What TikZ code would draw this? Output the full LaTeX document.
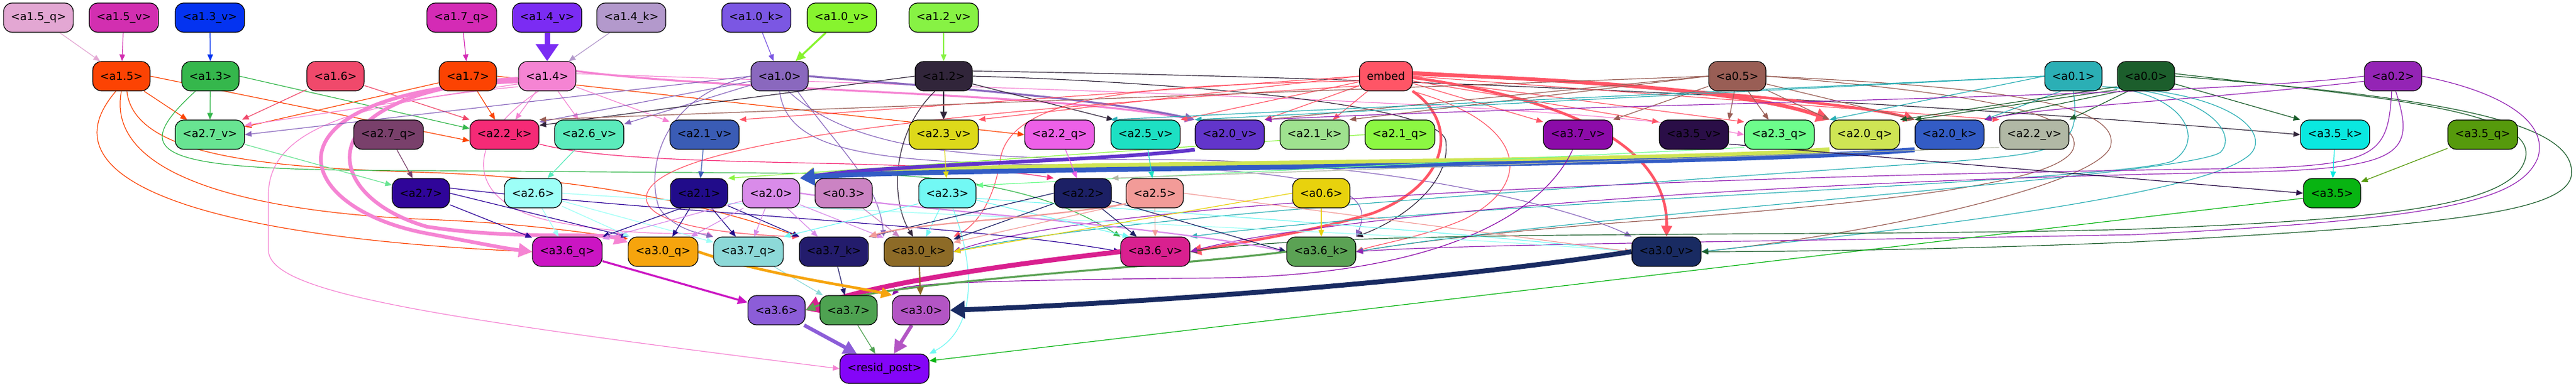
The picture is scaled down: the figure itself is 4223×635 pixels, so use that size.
\documentclass[tikz,border=0pt]{standalone}
\usepackage{fontspec}
\setmainfont{DejaVu Sans}
\usetikzlibrary{arrows.meta,backgrounds}
\definecolor{c15q}{HTML}{E3A7D3}\definecolor{c15v}{HTML}{D22FB0}\definecolor{c13v}{HTML}{0433F0}
\definecolor{c17q}{HTML}{D42BB5}\definecolor{c14v}{HTML}{7B2CF3}\definecolor{c14k}{HTML}{B399CC}
\definecolor{c10k}{HTML}{7B57E3}\definecolor{c10v}{HTML}{87F42E}\definecolor{c12v}{HTML}{87F244}
\definecolor{c15}{HTML}{FC4303}\definecolor{c13}{HTML}{35B74C}\definecolor{c16}{HTML}{F0496B}
\definecolor{c17}{HTML}{FC4302}\definecolor{c14}{HTML}{F584D3}\definecolor{c10}{HTML}{8A68BE}
\definecolor{c12}{HTML}{31253A}\definecolor{cemb}{HTML}{FF5566}\definecolor{c05}{HTML}{995E55}
\definecolor{c01}{HTML}{2BAFB5}\definecolor{c00}{HTML}{1C5E2C}\definecolor{c02}{HTML}{9424B5}
\definecolor{c27v}{HTML}{68E492}\definecolor{c27q}{HTML}{79406B}\definecolor{c22k}{HTML}{F52A76}
\definecolor{c26v}{HTML}{5BEBBC}\definecolor{c21v}{HTML}{3A5CB5}\definecolor{c23v}{HTML}{DDD91A}
\definecolor{c22q}{HTML}{ED60E7}\definecolor{c25v}{HTML}{1DE0C3}\definecolor{c20v}{HTML}{6235CB}
\definecolor{c21k}{HTML}{9FE28F}\definecolor{c21q}{HTML}{8CF742}\definecolor{c37v}{HTML}{8C0BA9}
\definecolor{c35v}{HTML}{2A0E47}\definecolor{c23q}{HTML}{6DFD8C}\definecolor{c20q}{HTML}{CFE554}
\definecolor{c20k}{HTML}{335CC5}\definecolor{c22v}{HTML}{B1B8A5}\definecolor{c35k}{HTML}{0AE8E0}
\definecolor{c35q}{HTML}{569A0C}\definecolor{c27}{HTML}{2F0599}\definecolor{c26}{HTML}{9DFFF7}
\definecolor{c21}{HTML}{210C8A}\definecolor{c20}{HTML}{D98BE9}\definecolor{c03}{HTML}{CB83C3}
\definecolor{c23}{HTML}{72F8F4}\definecolor{c22}{HTML}{1C2065}\definecolor{c25}{HTML}{F29B98}
\definecolor{c06}{HTML}{E8D20D}\definecolor{c35}{HTML}{08B412}\definecolor{c36q}{HTML}{CB15C3}
\definecolor{c30q}{HTML}{F6A40D}\definecolor{c37q}{HTML}{8DD9D8}\definecolor{c37k}{HTML}{231C6C}
\definecolor{c30k}{HTML}{8D6B27}\definecolor{c36v}{HTML}{D9208F}\definecolor{c36k}{HTML}{5BA254}
\definecolor{c30v}{HTML}{192B62}\definecolor{c36}{HTML}{8C5DD8}\definecolor{c37}{HTML}{4EA251}
\definecolor{c30}{HTML}{B355C4}\definecolor{cres}{HTML}{8405F8}
\tikzset{
 nd/.style={draw=black, line width=0.6pt, rounded corners=7pt, minimum height=24pt,
   inner xsep=6pt, inner ysep=0pt, font=\fontsize{9}{10.8}\selectfont, text=black},
 wA/.style={line width=0.6pt,-{Triangle[length=5.5pt,width=4.5pt]}},
 wB/.style={line width=1.1pt,-{Triangle[length=6.5pt,width=5.5pt]}},
 wC/.style={line width=1.6pt,-{Triangle[length=8pt,width=7pt]}},
 wD/.style={line width=2.2pt,-{Triangle[length=9pt,width=8.5pt]}},
 wE/.style={line width=3pt,-{Triangle[length=11pt,width=11pt]}},
 wF/.style={line width=4pt,-{Triangle[length=12pt,width=14pt]}},
 wG/.style={line width=4.5pt,-{Triangle[length=14pt,width=18pt]}},
}
\begin{document}
\begin{tikzpicture}[x=0.5pt,y=-0.5pt]
\useasboundingbox (0,0) rectangle (4223,635);
% row 1
\node[nd,fill=c15q] (a15q) at (63,29) {<a1.5\_q>};
\node[nd,fill=c15v] (a15v) at (203,29) {<a1.5\_v>};
\node[nd,fill=c13v] (a13v) at (344,29) {<a1.3\_v>};
\node[nd,fill=c17q] (a17q) at (757,29) {<a1.7\_q>};
\node[nd,fill=c14v] (a14v) at (897,29) {<a1.4\_v>};
\node[nd,fill=c14k] (a14k) at (1035,29) {<a1.4\_k>};
\node[nd,fill=c10k] (a10k) at (1240,29) {<a1.0\_k>};
\node[nd,fill=c10v] (a10v) at (1380,29) {<a1.0\_v>};
\node[nd,fill=c12v] (a12v) at (1547,29) {<a1.2\_v>};
% row 2
\node[nd,fill=c15] (a15) at (199,125) {<a1.5>};
\node[nd,fill=c13] (a13) at (345,125) {<a1.3>};
\node[nd,fill=c16] (a16) at (550,125) {<a1.6>};
\node[nd,fill=c17] (a17) at (767,125) {<a1.7>};
\node[nd,fill=c14] (a14) at (897,125) {<a1.4>};
\node[nd,fill=c10] (a10) at (1278,125) {<a1.0>};
\node[nd,fill=c12] (a12) at (1547,125) {<a1.2>};
\node[nd,fill=cemb] (emb) at (2272,125) {embed};
\node[nd,fill=c05] (a05) at (2848,125) {<a0.5>};
\node[nd,fill=c01] (a01) at (3399,125) {<a0.1>};
\node[nd,fill=c00] (a00) at (3518,125) {<a0.0>};
\node[nd,fill=c02] (a02) at (3923,125) {<a0.2>};
% row 3
\node[nd,fill=c27v] (a27v) at (344,221) {<a2.7\_v>};
\node[nd,fill=c27q] (a27q) at (637,221) {<a2.7\_q>};
\node[nd,fill=c22k] (a22k) at (827,221) {<a2.2\_k>};
\node[nd,fill=c26v] (a26v) at (966,221) {<a2.6\_v>};
\node[nd,fill=c21v] (a21v) at (1155,221) {<a2.1\_v>};
\node[nd,fill=c23v] (a23v) at (1547,221) {<a2.3\_v>};
\node[nd,fill=c22q] (a22q) at (1737,221) {<a2.2\_q>};
\node[nd,fill=c25v] (a25v) at (1878,221) {<a2.5\_v>};
\node[nd,fill=c20v] (a20v) at (2016,221) {<a2.0\_v>};
\node[nd,fill=c21k] (a21k) at (2155,221) {<a2.1\_k>};
\node[nd,fill=c21q] (a21q) at (2295,221) {<a2.1\_q>};
\node[nd,fill=c37v] (a37v) at (2587,221) {<a3.7\_v>};
\node[nd,fill=c35v] (a35v) at (2777,221) {<a3.5\_v>};
\node[nd,fill=c23q] (a23q) at (2917,221) {<a2.3\_q>};
\node[nd,fill=c20q] (a20q) at (3057,221) {<a2.0\_q>};
\node[nd,fill=c20k] (a20k) at (3196,221) {<a2.0\_k>};
\node[nd,fill=c22v] (a22v) at (3335,221) {<a2.2\_v>};
\node[nd,fill=c35k] (a35k) at (3828,221) {<a3.5\_k>};
\node[nd,fill=c35q] (a35q) at (4070,221) {<a3.5\_q>};
% row 4
\node[nd,fill=c27] (a27) at (690,317) {<a2.7>};
\node[nd,fill=c26] (a26) at (874,317) {<a2.6>};
\node[nd,fill=c21] (a21) at (1146,317) {<a2.1>};
\node[nd,fill=c20] (a20) at (1264,317) {<a2.0>};
\node[nd,fill=c03] (a03) at (1383,317) {<a0.3>};
\node[nd,fill=c23] (a23) at (1553,317) {<a2.3>};
\node[nd,fill=c22] (a22) at (1775,317) {<a2.2>};
\node[nd,fill=c25] (a25) at (1893,317) {<a2.5>};
\node[nd,fill=c06] (a06) at (2166,317) {<a0.6>};
\node[nd,fill=c35] (a35) at (3823,317) {<a3.5>};
% row 5
\node[nd,fill=c36q] (a36q) at (930,413) {<a3.6\_q>};
\node[nd,fill=c30q] (a30q) at (1087,413) {<a3.0\_q>};
\node[nd,fill=c37q] (a37q) at (1227,413) {<a3.7\_q>};
\node[nd,fill=c37k] (a37k) at (1367,413) {<a3.7\_k>};
\node[nd,fill=c30k] (a30k) at (1506,413) {<a3.0\_k>};
\node[nd,fill=c36v] (a36v) at (1894,413) {<a3.6\_v>};
\node[nd,fill=c36k] (a36k) at (2166,413) {<a3.6\_k>};
\node[nd,fill=c30v] (a30v) at (2732,413) {<a3.0\_v>};
% row 6
\node[nd,fill=c36] (a36) at (1273,509) {<a3.6>};
\node[nd,fill=c37] (a37) at (1391,509) {<a3.7>};
\node[nd,fill=c30] (a30) at (1510,509) {<a3.0>};
% row 7
\node[nd,fill=cres] (res) at (1450,605) {<resid\_post>};

\begin{scope}[on background layer]
\fill[white] (0,0) rectangle (4223,635);
% row1 -> row2
\draw[wA,c15q] (a15q) -- (a15);
\draw[wA,c15v] (a15v) -- (a15);
\draw[wA,c13v] (a13v) -- (a13);
\draw[wA,c17q] (a17q) -- (a17);
\draw[wG,c14v] (a14v) -- (a14);
\draw[wA,c14k] (a14k) -- (a14);
\draw[wA,c10k] (a10k) -- (a10);
\draw[wC,c10v] (a10v) -- (a10);
\draw[wA,c12v] (a12v) -- (a12);
% a1.5
\draw[wA,c15] (a15) -- (a27v);
\draw[wA,c15] (a15.east) -- (a22k.190);
\draw[wA,c15] (a15.250) .. controls (60,300) and (350,390) .. (a36q.west);
\draw[wA,c15] (a15.270) .. controls (170,300) and (450,350) .. (700,360) .. controls (850,366) and (950,380) .. (a30q.160);
\draw[wA,c15] (a15.290) .. controls (220,260) and (450,275) .. (700,283) .. controls (1000,293) and (1200,350) .. (a37k.north west);
% a1.3
\draw[wA,c13] (a13) -- (a27v);
\draw[wA,c13] (a13.east) -- (a22k.170);
\draw[wA,c13] (a13.225) .. controls (200,260) and (260,280) .. (700,280) -- (1400,285) .. controls (1650,290) and (1760,340) .. (a36v.north west);
% a1.6
\draw[wA,c16] (a16) -- (a27v);
\draw[wA,c16] (a16) -- (a22k.north west);
% a1.7
\draw[wA,c17] (a17) -- (a27v);
\draw[wA,c17] (a17) -- (a22k);
\draw[wA,c17] (a17.east) -- (a22q.west);
% a1.4
\draw[wA,c14] (a14.195) -- (a27v.15);
\draw[wA,c14] (a14) -- (a22k);
\draw[wA,c14] (a14) -- (a26v);
\draw[wA,c14] (a14) -- (a21v);
\draw[wE,c14] (a14.190) .. controls (420,150) and (470,340) .. (700,383) .. controls (790,400) and (830,408) .. (a36q.west);
\draw[wE,c14] (a14.185) .. controls (500,150) and (520,320) .. (700,372) .. controls (850,395) and (980,380) .. (a30q.165);
\draw[wA,c14] (a14.200) .. controls (560,170) and (440,220) .. (440,320) -- (440,410) .. controls (440,480) and (700,520) .. (res.west);
\draw[wC,c14] (a14.10) .. controls (1200,150) and (1700,150) .. (a20v.north west);
\draw[wA,c14] (a14.5) .. controls (1800,150) and (2600,170) .. (a23q.west);
\draw[wA,c14] (a14.240) .. controls (760,230) and (760,330) .. (900,362) .. controls (1050,392) and (1150,380) .. (a37q.north west);
% a1.0
\draw[wA,c10] (a10.west) -- (a27v.east);
\draw[wA,c10] (a10.190) -- (a22k.20);
\draw[wA,c10] (a10) -- (a26v);
\draw[wC,c10] (a10.east) .. controls (1500,140) and (1800,160) .. (a20v.north west);
\draw[wA,c10] (a10.west) .. controls (1080,160) and (1060,280) .. (1080,340) .. controls (1100,372) and (1140,382) .. (a37q.north west);
\draw[wA,c10] (a10.south) .. controls (1290,240) and (1400,265) .. (1700,270) .. controls (2150,275) and (2260,300) .. (a36k.north east);
\draw[wA,c10] (a10.300) .. controls (1400,250) and (1600,262) .. (1900,262) .. controls (2300,262) and (2600,350) .. (a30v.north west);
\draw[wA,c10] (a10.320) .. controls (1380,250) and (1440,300) .. (a30k.north west);
% a1.2
\draw[wB,c12] (a12) -- (a23v);
\draw[wA,c12] (a12.345) -- (a25v.155);
\draw[wA,c12] (a12.west) -- (a22k.15);
\draw[wA,c12] (a12.240) .. controls (1460,220) and (1460,330) .. (a30k.110);
\draw[wA,c12] (a12.east) .. controls (1800,130) and (2350,160) .. (2370,230) .. controls (2380,300) and (2300,360) .. (a36k.north east);
\draw[wA,c12] (a12.10) .. controls (2500,130) and (3300,180) .. (a35k.west);
% embed
\draw[wA,cemb] (emb.west) -- (a21v.north east);
\draw[wA,cemb] (emb.west) -- (a23v.north east);
\draw[wA,cemb] (emb) -- (a25v.north east);
\draw[wA,cemb] (emb) -- (a20v.north east);
\draw[wA,cemb] (emb) -- (a21k);
\draw[wA,cemb] (emb.-15) -- (a37v.160);
\draw[wA,cemb] (emb.-10) -- (a35v.160);
\draw[wA,cemb] (emb.-5) -- (a23q.160);
\draw[wA,cemb] (emb.0) -- (a22v.north west);
\draw[wE,cemb] (emb.5) .. controls (2700,135) and (2900,160) .. (a20q.north west);
\draw[wD,cemb] (emb.8) .. controls (2700,140) and (3050,170) .. (a20k.north west);
\draw[wD,cemb] (emb.south east) .. controls (2390,200) and (2380,300) .. (2250,350) .. controls (2150,380) and (2050,395) .. (a36v.east);
\draw[wD,cemb] (emb.-3) .. controls (2550,160) and (2735,230) .. (a30v.north);
\draw[wA,cemb] (emb.-30) .. controls (2500,200) and (2520,300) .. (2400,360) .. controls (2330,390) and (2260,400) .. (a36k.east);
\draw[wA,cemb] (emb.190) .. controls (1900,140) and (1660,150) .. (1640,260) .. controls (1630,330) and (1600,370) .. (a30k.north east);
\draw[wA,cemb] (emb.200) .. controls (1600,180) and (1080,230) .. (1060,320) .. controls (1050,370) and (1200,385) .. (a37k.north west);
% a0.5
\draw[wA,c05] (a05.west) -- (a22k.north east);
\draw[wA,c05] (a05.west) -- (a20v.north east);
\draw[wA,c05] (a05.west) -- (a21k.north east);
\draw[wA,c05] (a05) -- (a37v.north east);
\draw[wA,c05] (a05) -- (a35v.north east);
\draw[wA,c05] (a05) -- (a23q);
\draw[wA,c05] (a05) -- (a20q.north west);
\draw[wA,c05] (a05.-15) -- (a20k.north west);
\draw[wA,c05] (a05.east) .. controls (3200,140) and (3480,160) .. (3460,240) .. controls (3440,300) and (3100,380) .. (a30v.east);
\draw[wA,c05] (a05.east) .. controls (3200,150) and (3410,180) .. (3400,240) .. controls (3390,300) and (3100,330) .. (2700,362) .. controls (2450,380) and (2300,400) .. (a36k.east);
% a0.1
\draw[wA,c01] (a01.west) -- (a25v.north west);
\draw[wA,c01] (a01.west) -- (a20v.north west);
\draw[wA,c01] (a01.west) -- (a20q.north west);
\draw[wA,c01] (a01.230) -- (a20k.north east);
\draw[wA,c01] (a01.-20) .. controls (3580,150) and (3620,230) .. (3560,265) .. controls (3450,300) and (2400,330) .. (a36v.north east);
\draw[wA,c01] (a01.-20) .. controls (3620,150) and (3670,220) .. (3640,250) .. controls (3580,290) and (2600,350) .. (a36k.east);
\draw[wA,c01] (a01.-20) .. controls (3680,150) and (3730,230) .. (3680,260) .. controls (3580,330) and (3000,390) .. (a30v.east);
\draw[wA,c01] (a01.south) .. controls (3410,240) and (3390,250) .. (3200,265) .. controls (2400,320) and (1800,360) .. (a30k.east);
% a0.0
\draw[wA,c00] (a00.200) -- (a20q.north east);
\draw[wA,c00] (a00.205) -- (a20k.north west);
\draw[wA,c00] (a00.210) -- (a20k.north east);
\draw[wA,c00] (a00.220) -- (a22v.north east);
\draw[wA,c00] (a00.-15) -- (a35k.north west);
\draw[wA,c00] (a00.5) .. controls (3900,160) and (4160,180) .. (4140,260) .. controls (4120,340) and (3900,360) .. (3500,376) .. controls (3000,390) and (2200,375) .. (a36v.east);
\draw[wA,c00] (a00.0) .. controls (4000,160) and (4230,200) .. (4215,290) .. controls (4200,350) and (4000,370) .. (3500,397) .. controls (3200,410) and (2900,413) .. (a30v.east);
% a0.2
\draw[wA,c02] (a02.west) .. controls (3600,160) and (2600,170) .. (a20v.north east);
\draw[wA,c02] (a02.190) .. controls (3600,165) and (3350,175) .. (a20k.north east);
\draw[wA,c02] (a02.east) .. controls (4100,150) and (4180,200) .. (4160,260) .. controls (4130,330) and (4000,360) .. (3500,385) .. controls (3000,395) and (2400,400) .. (a36k.east);
\draw[wA,c02] (a02.265) .. controls (3915,250) and (3900,270) .. (3700,276) .. controls (2700,290) and (1800,330) .. (a30k.east);
\draw[wA,c02] (a02.280) .. controls (3960,250) and (3940,275) .. (3700,282) .. controls (2700,300) and (2100,370) .. (a36v.east);
% row 3
\draw[wA,c27v] (a27v) -- (a27);
\draw[wA,c27q] (a27q) -- (a27);
\draw[wA,c22k] (a22k.-15) .. controls (1050,280) and (1500,255) .. (a22.north west);
\draw[wA,c26v] (a26v) -- (a26);
\draw[wA,c21v] (a21v) -- (a21);
\draw[wA,c21q] (a21q.west) -- (a21.north east);
\draw[wF,c20q] (a20q.south west) .. controls (2700,270) and (1500,265) .. (a20.north east);
\draw[wE,c20v] (a20v.south west) .. controls (1800,265) and (1450,270) .. (a20.north east);
\draw[wF,c20k] (a20k.south west) .. controls (2800,275) and (1500,275) .. (a20.north east);
\draw[wA,c23v] (a23v) -- (a23);
\draw[wA,c23q] (a23q.200) -- (a23.15);
\draw[wA,c22q] (a22q) -- (a22);
\draw[wA,c22v] (a22v.200) -- (a22.north east);
\draw[wA,c25v] (a25v) -- (a25);
\draw[wA,c37v] (a37v.250) .. controls (2540,330) and (2400,450) .. (2000,456) .. controls (1600,460) and (1480,465) .. (a30.north west);
\draw[wA,c35v] (a35v.-15) -- (a35.west);
\draw[wA,c35k] (a35k) -- (a35);
\draw[wA,c35q] (a35q) -- (a35);
% row 4
\draw[wA,c27] (a27) -- (a36q);
\draw[wA,c27] (a27.east) -- (a30q.north west);
\draw[wA,c27] (a27.10) .. controls (1100,350) and (1600,370) .. (a36v.west);
\draw[wA,c26] (a26) -- (a36q);
\draw[wA,c26] (a26) -- (a30q);
\draw[wA,c26] (a26) -- (a37q);
\draw[wA,c26] (a26.east) .. controls (1400,350) and (2300,380) .. (a30v.west);
\draw[wA,c21] (a21.220) -- (a36q.north east);
\draw[wA,c21] (a21) -- (a30q);
\draw[wA,c21] (a21) -- (a37q);
\draw[wA,c21] (a21) -- (a37k);
\draw[wA,c20] (a20) -- (a36q.20);
\draw[wA,c20] (a20) -- (a30q);
\draw[wA,c20] (a20) -- (a37q);
\draw[wA,c20] (a20) -- (a37k);
\draw[wA,c20] (a20) -- (a30k);
\draw[wB,c20] (a20.east) .. controls (1500,345) and (1900,370) .. (a36k.west);
\draw[wA,c03] (a03) -- (a30k);
\draw[wA,c23] (a23) -- (a30k);
\draw[wA,c23] (a23) -- (a36v.150);
\draw[wA,c23] (a23.200) -- (a37q.north east);
\draw[wA,c23] (a23.-10) .. controls (1800,340) and (2400,380) .. (a30v.west);
\draw[wA,c23] (a23.290) .. controls (1600,440) and (1600,540) .. (res.north east);
\draw[wA,c22] (a22) -- (a30k);
\draw[wA,c22] (a22) -- (a36v);
\draw[wA,c22] (a22.-15) -- (a36k.west);
\draw[wA,c22] (a22.west) -- (a37k.north east);
\draw[wA,c25] (a25.200) -- (a30k.15);
\draw[wA,c25] (a25) -- (a36v);
\draw[wA,c25] (a25.east) -- (a30v.west);
\draw[wB,c25] (a25.200) .. controls (1700,360) and (1500,365) .. (a37k.north east);
\draw[wA,c06] (a06) -- (a36k);
\draw[wA,c06] (a06.west) -- (a30k.east);
\draw[wA,c35] (a35.190) -- (res.10);
% row 5
\draw[wC,c36q] (a36q.-15) -- (a36.165);
\draw[wF,c36v] (a36v.west) .. controls (1600,440) and (1420,470) .. (a36.east);
\draw[wC,c36k] (a36k.west) .. controls (1900,440) and (1450,460) .. (a36.east);
\draw[wA,c37q] (a37q) -- (a37);
\draw[wA,c37k] (a37k) -- (a37);
\draw[wD,c30q] (a30q.east) .. controls (1250,450) and (1400,470) .. (a30.north west);
\draw[wB,c30k] (a30k) -- (a30);
\draw[wF,c30v] (a30v.west) .. controls (2300,470) and (1800,500) .. (a30.east);
% row 6
\draw[wE,c36] (a36) -- (res);
\draw[wA,c37] (a37) -- (res);
\draw[wE,c30] (a30) -- (res);
\end{scope}
\end{tikzpicture}
\end{document}
